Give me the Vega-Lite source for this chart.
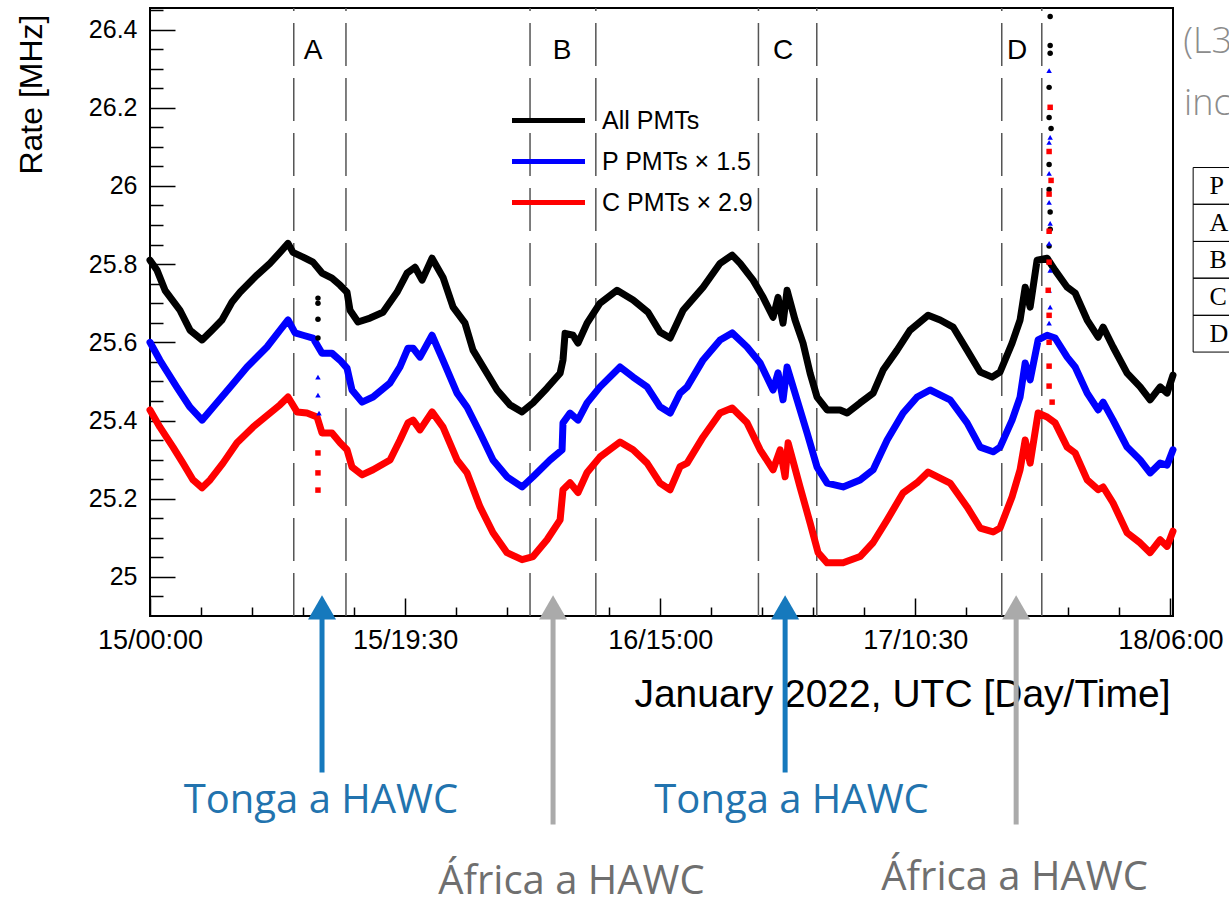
{
  "$schema": "https://vega.github.io/schema/vega-lite/v6.json",
  "width": 1023,
  "height": 608,
  "autosize": {"type": "none"},
  "padding": {"left": 150, "top": 8, "right": 56, "bottom": 283},
  "background": "white",
  "config": {"view": {"stroke": "black", "strokeWidth": 2}, "font": "Liberation Sans"},
  "resolve": {"axis": {"x": "independent", "y": "independent"}},
  "datasets": {
    "lines": [{"t": 10.99}, {"t": 14.98}, {"t": 29.05}, {"t": 34.08}, {"t": 46.51}, {"t": 50.97}, {"t": 65.11}, {"t": 68.17}],
    "periods": [{"period": "A", "t": 12.46, "v": 26.346}, {"period": "B", "t": 31.5, "v": 26.346}, {"period": "C", "t": 48.39, "v": 26.346}, {"period": "D", "t": 66.28, "v": 26.346}],
    "series": [
      {"series": "All PMTs", "t": 0, "rate": 25.81}, {"series": "All PMTs", "t": 0.54, "rate": 25.784}, {"series": "All PMTs", "t": 1.15, "rate": 25.733}, {"series": "All PMTs", "t": 2.29, "rate": 25.682}, {"series": "All PMTs", "t": 3.06, "rate": 25.631}, {"series": "All PMTs", "t": 3.98, "rate": 25.606}, {"series": "All PMTs", "t": 4.74, "rate": 25.631}, {"series": "All PMTs", "t": 5.5, "rate": 25.657}, {"series": "All PMTs", "t": 6.27, "rate": 25.703}, {"series": "All PMTs", "t": 6.88, "rate": 25.728}, {"series": "All PMTs", "t": 8.18, "rate": 25.772}, {"series": "All PMTs", "t": 9.17, "rate": 25.802}, {"series": "All PMTs", "t": 9.94, "rate": 25.83}, {"series": "All PMTs", "t": 10.55, "rate": 25.853}, {"series": "All PMTs", "t": 10.93, "rate": 25.83}, {"series": "All PMTs", "t": 11.7, "rate": 25.818}, {"series": "All PMTs", "t": 12.46, "rate": 25.805}, {"series": "All PMTs", "t": 13.15, "rate": 25.777}, {"series": "All PMTs", "t": 13.91, "rate": 25.764}, {"series": "All PMTs", "t": 14.53, "rate": 25.746}, {"series": "All PMTs", "t": 15.06, "rate": 25.728}, {"series": "All PMTs", "t": 15.29, "rate": 25.682}, {"series": "All PMTs", "t": 15.9, "rate": 25.652}, {"series": "All PMTs", "t": 16.82, "rate": 25.662}, {"series": "All PMTs", "t": 17.81, "rate": 25.677}, {"series": "All PMTs", "t": 18.88, "rate": 25.728}, {"series": "All PMTs", "t": 19.65, "rate": 25.777}, {"series": "All PMTs", "t": 20.26, "rate": 25.792}, {"series": "All PMTs", "t": 20.8, "rate": 25.759}, {"series": "All PMTs", "t": 21.56, "rate": 25.815}, {"series": "All PMTs", "t": 22.4, "rate": 25.766}, {"series": "All PMTs", "t": 23.17, "rate": 25.69}, {"series": "All PMTs", "t": 24.08, "rate": 25.649}, {"series": "All PMTs", "t": 24.69, "rate": 25.58}, {"series": "All PMTs", "t": 25.76, "rate": 25.521}, {"series": "All PMTs", "t": 26.53, "rate": 25.478}, {"series": "All PMTs", "t": 27.52, "rate": 25.44}, {"series": "All PMTs", "t": 28.44, "rate": 25.422}, {"series": "All PMTs", "t": 29.28, "rate": 25.445}, {"series": "All PMTs", "t": 30.35, "rate": 25.483}, {"series": "All PMTs", "t": 31.35, "rate": 25.521}, {"series": "All PMTs", "t": 31.57, "rate": 25.555}, {"series": "All PMTs", "t": 31.73, "rate": 25.623}, {"series": "All PMTs", "t": 32.34, "rate": 25.618}, {"series": "All PMTs", "t": 32.72, "rate": 25.598}, {"series": "All PMTs", "t": 33.41, "rate": 25.649}, {"series": "All PMTs", "t": 34.4, "rate": 25.7}, {"series": "All PMTs", "t": 35.7, "rate": 25.733}, {"series": "All PMTs", "t": 36.93, "rate": 25.708}, {"series": "All PMTs", "t": 38.07, "rate": 25.677}, {"series": "All PMTs", "t": 38.99, "rate": 25.626}, {"series": "All PMTs", "t": 39.76, "rate": 25.611}, {"series": "All PMTs", "t": 40.75, "rate": 25.682}, {"series": "All PMTs", "t": 42.28, "rate": 25.741}, {"series": "All PMTs", "t": 43.58, "rate": 25.802}, {"series": "All PMTs", "t": 44.5, "rate": 25.823}, {"series": "All PMTs", "t": 45.11, "rate": 25.802}, {"series": "All PMTs", "t": 46.1, "rate": 25.759}, {"series": "All PMTs", "t": 46.87, "rate": 25.715}, {"series": "All PMTs", "t": 47.63, "rate": 25.664}, {"series": "All PMTs", "t": 48.01, "rate": 25.715}, {"series": "All PMTs", "t": 48.39, "rate": 25.649}, {"series": "All PMTs", "t": 48.7, "rate": 25.733}, {"series": "All PMTs", "t": 49.31, "rate": 25.657}, {"series": "All PMTs", "t": 49.92, "rate": 25.598}, {"series": "All PMTs", "t": 50.46, "rate": 25.521}, {"series": "All PMTs", "t": 50.99, "rate": 25.46}, {"series": "All PMTs", "t": 51.76, "rate": 25.427}, {"series": "All PMTs", "t": 52.75, "rate": 25.427}, {"series": "All PMTs", "t": 53.29, "rate": 25.419}, {"series": "All PMTs", "t": 54.28, "rate": 25.445}, {"series": "All PMTs", "t": 55.28, "rate": 25.47}, {"series": "All PMTs", "t": 56.04, "rate": 25.529}, {"series": "All PMTs", "t": 57.11, "rate": 25.58}, {"series": "All PMTs", "t": 58.1, "rate": 25.631}, {"series": "All PMTs", "t": 59.48, "rate": 25.669}, {"series": "All PMTs", "t": 60.4, "rate": 25.657}, {"series": "All PMTs", "t": 61.39, "rate": 25.639}, {"series": "All PMTs", "t": 62.46, "rate": 25.58}, {"series": "All PMTs", "t": 63.46, "rate": 25.524}, {"series": "All PMTs", "t": 64.37, "rate": 25.511}, {"series": "All PMTs", "t": 64.98, "rate": 25.524}, {"series": "All PMTs", "t": 65.9, "rate": 25.598}, {"series": "All PMTs", "t": 66.51, "rate": 25.657}, {"series": "All PMTs", "t": 66.9, "rate": 25.741}, {"series": "All PMTs", "t": 67.28, "rate": 25.69}, {"series": "All PMTs", "t": 67.81, "rate": 25.81}, {"series": "All PMTs", "t": 68.58, "rate": 25.815}, {"series": "All PMTs", "t": 69.19, "rate": 25.784}, {"series": "All PMTs", "t": 70.11, "rate": 25.741}, {"series": "All PMTs", "t": 70.72, "rate": 25.726}, {"series": "All PMTs", "t": 71.64, "rate": 25.657}, {"series": "All PMTs", "t": 72.48, "rate": 25.613}, {"series": "All PMTs", "t": 72.86, "rate": 25.639}, {"series": "All PMTs", "t": 73.62, "rate": 25.588}, {"series": "All PMTs", "t": 74.69, "rate": 25.521}, {"series": "All PMTs", "t": 75.69, "rate": 25.486}, {"series": "All PMTs", "t": 76.45, "rate": 25.453}, {"series": "All PMTs", "t": 77.22, "rate": 25.486}, {"series": "All PMTs", "t": 77.75, "rate": 25.47}, {"series": "All PMTs", "t": 78.2, "rate": 25.516},
      {"series": "P PMTs × 1.5", "t": 0, "rate": 25.6}, {"series": "P PMTs × 1.5", "t": 0.76, "rate": 25.554}, {"series": "P PMTs × 1.5", "t": 2.06, "rate": 25.485}, {"series": "P PMTs × 1.5", "t": 3.06, "rate": 25.434}, {"series": "P PMTs × 1.5", "t": 3.98, "rate": 25.401}, {"series": "P PMTs × 1.5", "t": 4.82, "rate": 25.434}, {"series": "P PMTs × 1.5", "t": 6.12, "rate": 25.485}, {"series": "P PMTs × 1.5", "t": 7.42, "rate": 25.537}, {"series": "P PMTs × 1.5", "t": 8.94, "rate": 25.588}, {"series": "P PMTs × 1.5", "t": 9.94, "rate": 25.631}, {"series": "P PMTs × 1.5", "t": 10.55, "rate": 25.657}, {"series": "P PMTs × 1.5", "t": 11.09, "rate": 25.624}, {"series": "P PMTs × 1.5", "t": 11.7, "rate": 25.618}, {"series": "P PMTs × 1.5", "t": 12.46, "rate": 25.611}, {"series": "P PMTs × 1.5", "t": 13.15, "rate": 25.572}, {"series": "P PMTs × 1.5", "t": 13.91, "rate": 25.572}, {"series": "P PMTs × 1.5", "t": 14.53, "rate": 25.554}, {"series": "P PMTs × 1.5", "t": 15.06, "rate": 25.534}, {"series": "P PMTs × 1.5", "t": 15.44, "rate": 25.478}, {"series": "P PMTs × 1.5", "t": 16.21, "rate": 25.447}, {"series": "P PMTs × 1.5", "t": 17.05, "rate": 25.46}, {"series": "P PMTs × 1.5", "t": 18.35, "rate": 25.496}, {"series": "P PMTs × 1.5", "t": 19.11, "rate": 25.537}, {"series": "P PMTs × 1.5", "t": 19.72, "rate": 25.585}, {"series": "P PMTs × 1.5", "t": 20.11, "rate": 25.585}, {"series": "P PMTs × 1.5", "t": 20.64, "rate": 25.562}, {"series": "P PMTs × 1.5", "t": 21.56, "rate": 25.618}, {"series": "P PMTs × 1.5", "t": 22.4, "rate": 25.554}, {"series": "P PMTs × 1.5", "t": 23.47, "rate": 25.47}, {"series": "P PMTs × 1.5", "t": 24.24, "rate": 25.434}, {"series": "P PMTs × 1.5", "t": 25.23, "rate": 25.368}, {"series": "P PMTs × 1.5", "t": 26.22, "rate": 25.299}, {"series": "P PMTs × 1.5", "t": 27.29, "rate": 25.256}, {"series": "P PMTs × 1.5", "t": 28.44, "rate": 25.23}, {"series": "P PMTs × 1.5", "t": 29.28, "rate": 25.256}, {"series": "P PMTs × 1.5", "t": 30.58, "rate": 25.299}, {"series": "P PMTs × 1.5", "t": 31.5, "rate": 25.325}, {"series": "P PMTs × 1.5", "t": 31.57, "rate": 25.394}, {"series": "P PMTs × 1.5", "t": 32.11, "rate": 25.419}, {"series": "P PMTs × 1.5", "t": 32.72, "rate": 25.401}, {"series": "P PMTs × 1.5", "t": 33.41, "rate": 25.445}, {"series": "P PMTs × 1.5", "t": 34.4, "rate": 25.486}, {"series": "P PMTs × 1.5", "t": 35.93, "rate": 25.537}, {"series": "P PMTs × 1.5", "t": 36.93, "rate": 25.511}, {"series": "P PMTs × 1.5", "t": 38.0, "rate": 25.486}, {"series": "P PMTs × 1.5", "t": 38.99, "rate": 25.435}, {"series": "P PMTs × 1.5", "t": 39.76, "rate": 25.419}, {"series": "P PMTs × 1.5", "t": 40.52, "rate": 25.47}, {"series": "P PMTs × 1.5", "t": 41.06, "rate": 25.486}, {"series": "P PMTs × 1.5", "t": 42.28, "rate": 25.555}, {"series": "P PMTs × 1.5", "t": 43.58, "rate": 25.606}, {"series": "P PMTs × 1.5", "t": 44.5, "rate": 25.624}, {"series": "P PMTs × 1.5", "t": 45.64, "rate": 25.588}, {"series": "P PMTs × 1.5", "t": 46.64, "rate": 25.547}, {"series": "P PMTs × 1.5", "t": 47.63, "rate": 25.478}, {"series": "P PMTs × 1.5", "t": 48.01, "rate": 25.522}, {"series": "P PMTs × 1.5", "t": 48.39, "rate": 25.453}, {"series": "P PMTs × 1.5", "t": 48.7, "rate": 25.537}, {"series": "P PMTs × 1.5", "t": 49.46, "rate": 25.453}, {"series": "P PMTs × 1.5", "t": 50.23, "rate": 25.368}, {"series": "P PMTs × 1.5", "t": 50.99, "rate": 25.281}, {"series": "P PMTs × 1.5", "t": 51.76, "rate": 25.24}, {"series": "P PMTs × 1.5", "t": 52.98, "rate": 25.23}, {"series": "P PMTs × 1.5", "t": 54.28, "rate": 25.248}, {"series": "P PMTs × 1.5", "t": 55.28, "rate": 25.274}, {"series": "P PMTs × 1.5", "t": 56.35, "rate": 25.35}, {"series": "P PMTs × 1.5", "t": 57.57, "rate": 25.419}, {"series": "P PMTs × 1.5", "t": 58.64, "rate": 25.46}, {"series": "P PMTs × 1.5", "t": 59.63, "rate": 25.478}, {"series": "P PMTs × 1.5", "t": 61.16, "rate": 25.453}, {"series": "P PMTs × 1.5", "t": 62.46, "rate": 25.394}, {"series": "P PMTs × 1.5", "t": 63.46, "rate": 25.332}, {"series": "P PMTs × 1.5", "t": 64.45, "rate": 25.32}, {"series": "P PMTs × 1.5", "t": 64.98, "rate": 25.332}, {"series": "P PMTs × 1.5", "t": 65.9, "rate": 25.401}, {"series": "P PMTs × 1.5", "t": 66.51, "rate": 25.46}, {"series": "P PMTs × 1.5", "t": 66.9, "rate": 25.547}, {"series": "P PMTs × 1.5", "t": 67.28, "rate": 25.504}, {"series": "P PMTs × 1.5", "t": 67.89, "rate": 25.606}, {"series": "P PMTs × 1.5", "t": 68.58, "rate": 25.618}, {"series": "P PMTs × 1.5", "t": 69.19, "rate": 25.611}, {"series": "P PMTs × 1.5", "t": 70.11, "rate": 25.562}, {"series": "P PMTs × 1.5", "t": 70.72, "rate": 25.537}, {"series": "P PMTs × 1.5", "t": 71.64, "rate": 25.47}, {"series": "P PMTs × 1.5", "t": 72.48, "rate": 25.427}, {"series": "P PMTs × 1.5", "t": 72.86, "rate": 25.447}, {"series": "P PMTs × 1.5", "t": 73.62, "rate": 25.401}, {"series": "P PMTs × 1.5", "t": 74.69, "rate": 25.332}, {"series": "P PMTs × 1.5", "t": 75.69, "rate": 25.299}, {"series": "P PMTs × 1.5", "t": 76.45, "rate": 25.266}, {"series": "P PMTs × 1.5", "t": 77.22, "rate": 25.291}, {"series": "P PMTs × 1.5", "t": 77.75, "rate": 25.286}, {"series": "P PMTs × 1.5", "t": 78.2, "rate": 25.325},
      {"series": "C PMTs × 2.9", "t": 0, "rate": 25.427}, {"series": "C PMTs × 2.9", "t": 0.76, "rate": 25.383}, {"series": "C PMTs × 2.9", "t": 1.76, "rate": 25.332}, {"series": "C PMTs × 2.9", "t": 2.52, "rate": 25.291}, {"series": "C PMTs × 2.9", "t": 3.29, "rate": 25.248}, {"series": "C PMTs × 2.9", "t": 3.98, "rate": 25.228}, {"series": "C PMTs × 2.9", "t": 4.59, "rate": 25.248}, {"series": "C PMTs × 2.9", "t": 5.58, "rate": 25.291}, {"series": "C PMTs × 2.9", "t": 6.65, "rate": 25.343}, {"series": "C PMTs × 2.9", "t": 7.87, "rate": 25.383}, {"series": "C PMTs × 2.9", "t": 9.17, "rate": 25.419}, {"series": "C PMTs × 2.9", "t": 9.94, "rate": 25.44}, {"series": "C PMTs × 2.9", "t": 10.55, "rate": 25.46}, {"series": "C PMTs × 2.9", "t": 11.24, "rate": 25.422}, {"series": "C PMTs × 2.9", "t": 12.0, "rate": 25.419}, {"series": "C PMTs × 2.9", "t": 12.77, "rate": 25.409}, {"series": "C PMTs × 2.9", "t": 13.15, "rate": 25.368}, {"series": "C PMTs × 2.9", "t": 13.91, "rate": 25.368}, {"series": "C PMTs × 2.9", "t": 14.53, "rate": 25.343}, {"series": "C PMTs × 2.9", "t": 15.06, "rate": 25.325}, {"series": "C PMTs × 2.9", "t": 15.44, "rate": 25.281}, {"series": "C PMTs × 2.9", "t": 16.21, "rate": 25.261}, {"series": "C PMTs × 2.9", "t": 17.05, "rate": 25.274}, {"series": "C PMTs × 2.9", "t": 18.35, "rate": 25.299}, {"series": "C PMTs × 2.9", "t": 19.11, "rate": 25.35}, {"series": "C PMTs × 2.9", "t": 19.72, "rate": 25.394}, {"series": "C PMTs × 2.9", "t": 20.11, "rate": 25.401}, {"series": "C PMTs × 2.9", "t": 20.64, "rate": 25.376}, {"series": "C PMTs × 2.9", "t": 21.56, "rate": 25.422}, {"series": "C PMTs × 2.9", "t": 22.4, "rate": 25.383}, {"series": "C PMTs × 2.9", "t": 23.47, "rate": 25.299}, {"series": "C PMTs × 2.9", "t": 24.24, "rate": 25.266}, {"series": "C PMTs × 2.9", "t": 25.23, "rate": 25.179}, {"series": "C PMTs × 2.9", "t": 26.22, "rate": 25.113}, {"series": "C PMTs × 2.9", "t": 27.29, "rate": 25.062}, {"series": "C PMTs × 2.9", "t": 28.44, "rate": 25.044}, {"series": "C PMTs × 2.9", "t": 29.28, "rate": 25.052}, {"series": "C PMTs × 2.9", "t": 30.35, "rate": 25.095}, {"series": "C PMTs × 2.9", "t": 31.35, "rate": 25.146}, {"series": "C PMTs × 2.9", "t": 31.57, "rate": 25.223}, {"series": "C PMTs × 2.9", "t": 32.11, "rate": 25.241}, {"series": "C PMTs × 2.9", "t": 32.72, "rate": 25.216}, {"series": "C PMTs × 2.9", "t": 33.41, "rate": 25.267}, {"series": "C PMTs × 2.9", "t": 34.4, "rate": 25.307}, {"series": "C PMTs × 2.9", "t": 35.93, "rate": 25.345}, {"series": "C PMTs × 2.9", "t": 36.93, "rate": 25.325}, {"series": "C PMTs × 2.9", "t": 38.0, "rate": 25.291}, {"series": "C PMTs × 2.9", "t": 38.99, "rate": 25.24}, {"series": "C PMTs × 2.9", "t": 39.76, "rate": 25.223}, {"series": "C PMTs × 2.9", "t": 40.52, "rate": 25.282}, {"series": "C PMTs × 2.9", "t": 41.06, "rate": 25.291}, {"series": "C PMTs × 2.9", "t": 42.28, "rate": 25.358}, {"series": "C PMTs × 2.9", "t": 43.58, "rate": 25.419}, {"series": "C PMTs × 2.9", "t": 44.5, "rate": 25.432}, {"series": "C PMTs × 2.9", "t": 45.64, "rate": 25.394}, {"series": "C PMTs × 2.9", "t": 46.64, "rate": 25.325}, {"series": "C PMTs × 2.9", "t": 47.63, "rate": 25.274}, {"series": "C PMTs × 2.9", "t": 48.17, "rate": 25.325}, {"series": "C PMTs × 2.9", "t": 48.55, "rate": 25.256}, {"series": "C PMTs × 2.9", "t": 48.78, "rate": 25.343}, {"series": "C PMTs × 2.9", "t": 49.69, "rate": 25.23}, {"series": "C PMTs × 2.9", "t": 50.46, "rate": 25.138}, {"series": "C PMTs × 2.9", "t": 51.07, "rate": 25.062}, {"series": "C PMTs × 2.9", "t": 51.76, "rate": 25.036}, {"series": "C PMTs × 2.9", "t": 52.98, "rate": 25.036}, {"series": "C PMTs × 2.9", "t": 54.28, "rate": 25.052}, {"series": "C PMTs × 2.9", "t": 55.28, "rate": 25.088}, {"series": "C PMTs × 2.9", "t": 56.35, "rate": 25.146}, {"series": "C PMTs × 2.9", "t": 57.57, "rate": 25.215}, {"series": "C PMTs × 2.9", "t": 58.64, "rate": 25.241}, {"series": "C PMTs × 2.9", "t": 59.48, "rate": 25.268}, {"series": "C PMTs × 2.9", "t": 61.16, "rate": 25.24}, {"series": "C PMTs × 2.9", "t": 62.46, "rate": 25.179}, {"series": "C PMTs × 2.9", "t": 63.46, "rate": 25.125}, {"series": "C PMTs × 2.9", "t": 64.45, "rate": 25.115}, {"series": "C PMTs × 2.9", "t": 64.98, "rate": 25.125}, {"series": "C PMTs × 2.9", "t": 65.9, "rate": 25.205}, {"series": "C PMTs × 2.9", "t": 66.51, "rate": 25.274}, {"series": "C PMTs × 2.9", "t": 66.9, "rate": 25.35}, {"series": "C PMTs × 2.9", "t": 67.28, "rate": 25.291}, {"series": "C PMTs × 2.9", "t": 67.89, "rate": 25.419}, {"series": "C PMTs × 2.9", "t": 68.58, "rate": 25.409}, {"series": "C PMTs × 2.9", "t": 69.19, "rate": 25.394}, {"series": "C PMTs × 2.9", "t": 70.11, "rate": 25.332}, {"series": "C PMTs × 2.9", "t": 70.72, "rate": 25.317}, {"series": "C PMTs × 2.9", "t": 71.64, "rate": 25.248}, {"series": "C PMTs × 2.9", "t": 72.48, "rate": 25.223}, {"series": "C PMTs × 2.9", "t": 72.86, "rate": 25.23}, {"series": "C PMTs × 2.9", "t": 73.62, "rate": 25.189}, {"series": "C PMTs × 2.9", "t": 74.69, "rate": 25.113}, {"series": "C PMTs × 2.9", "t": 75.69, "rate": 25.087}, {"series": "C PMTs × 2.9", "t": 76.45, "rate": 25.062}, {"series": "C PMTs × 2.9", "t": 77.22, "rate": 25.095}, {"series": "C PMTs × 2.9", "t": 77.75, "rate": 25.078}, {"series": "C PMTs × 2.9", "t": 78.2, "rate": 25.117}
    ],
    "spikes": [
      {"series": "All PMTs", "t": 12.84, "rate": 25.713}, {"series": "All PMTs", "t": 12.84, "rate": 25.7}, {"series": "All PMTs", "t": 12.84, "rate": 25.659}, {"series": "All PMTs", "t": 12.84, "rate": 25.611},
      {"series": "P PMTs × 1.5", "t": 12.84, "rate": 25.511}, {"series": "P PMTs × 1.5", "t": 12.84, "rate": 25.465}, {"series": "P PMTs × 1.5", "t": 12.92, "rate": 25.419},
      {"series": "C PMTs × 2.9", "t": 12.84, "rate": 25.317}, {"series": "C PMTs × 2.9", "t": 12.84, "rate": 25.266}, {"series": "C PMTs × 2.9", "t": 12.84, "rate": 25.222},
      {"series": "All PMTs", "t": 68.81, "rate": 26.433}, {"series": "All PMTs", "t": 68.81, "rate": 26.359}, {"series": "All PMTs", "t": 68.81, "rate": 26.339}, {"series": "All PMTs", "t": 68.73, "rate": 26.252}, {"series": "All PMTs", "t": 68.73, "rate": 26.175}, {"series": "All PMTs", "t": 68.88, "rate": 26.147}, {"series": "All PMTs", "t": 68.73, "rate": 26.055}, {"series": "All PMTs", "t": 68.73, "rate": 25.991}, {"series": "All PMTs", "t": 68.81, "rate": 25.933}, {"series": "All PMTs", "t": 68.81, "rate": 25.889}, {"series": "All PMTs", "t": 68.73, "rate": 25.846},
      {"series": "P PMTs × 1.5", "t": 68.73, "rate": 26.295}, {"series": "P PMTs × 1.5", "t": 68.81, "rate": 26.201}, {"series": "P PMTs × 1.5", "t": 68.81, "rate": 26.124}, {"series": "P PMTs × 1.5", "t": 68.73, "rate": 26.111}, {"series": "P PMTs × 1.5", "t": 68.73, "rate": 26.032}, {"series": "P PMTs × 1.5", "t": 68.73, "rate": 25.958}, {"series": "P PMTs × 1.5", "t": 68.81, "rate": 25.904}, {"series": "P PMTs × 1.5", "t": 68.73, "rate": 25.853}, {"series": "P PMTs × 1.5", "t": 68.81, "rate": 25.784}, {"series": "P PMTs × 1.5", "t": 68.73, "rate": 25.733}, {"series": "P PMTs × 1.5", "t": 68.81, "rate": 25.69}, {"series": "P PMTs × 1.5", "t": 68.73, "rate": 25.649},
      {"series": "C PMTs × 2.9", "t": 68.81, "rate": 26.201}, {"series": "C PMTs × 2.9", "t": 68.73, "rate": 26.088}, {"series": "C PMTs × 2.9", "t": 68.88, "rate": 26.014}, {"series": "C PMTs × 2.9", "t": 68.73, "rate": 25.979}, {"series": "C PMTs × 2.9", "t": 68.73, "rate": 25.884}, {"series": "C PMTs × 2.9", "t": 68.73, "rate": 25.805}, {"series": "C PMTs × 2.9", "t": 68.66, "rate": 25.733}, {"series": "C PMTs × 2.9", "t": 68.73, "rate": 25.669}, {"series": "C PMTs × 2.9", "t": 68.73, "rate": 25.6}, {"series": "C PMTs × 2.9", "t": 68.73, "rate": 25.539}, {"series": "C PMTs × 2.9", "t": 68.73, "rate": 25.488}, {"series": "C PMTs × 2.9", "t": 68.96, "rate": 25.447}
    ],
    "arrows": [
      {"origin": "Tonga", "t": 13.15, "tip": 24.922, "tail": 24.5},
      {"origin": "África", "t": 30.81, "tip": 24.922, "tail": 24.367},
      {"origin": "Tonga", "t": 48.55, "tip": 24.922, "tail": 24.5},
      {"origin": "África", "t": 66.21, "tip": 24.922, "tail": 24.367}
    ],
    "notes": [
      {"origin": "Tonga", "text": "Tonga a HAWC", "t": 13.07, "v": 24.395},
      {"origin": "África", "text": "África a HAWC", "t": 32.22, "v": 24.188},
      {"origin": "Tonga", "text": "Tonga a HAWC", "t": 49.04, "v": 24.395},
      {"origin": "África", "text": "África a HAWC", "t": 66.09, "v": 24.2}
    ],
    "side": [
      {"text": "(L3", "t": 78.98, "v": 26.367},
      {"text": "inc", "t": 79.05, "v": 26.21}
    ],
    "table": [
      {"row": "P", "top": 26.047, "bot": 25.953, "mid": 26.0},
      {"row": "A", "top": 25.953, "bot": 25.858, "mid": 25.906},
      {"row": "B", "top": 25.858, "bot": 25.764, "mid": 25.811},
      {"row": "C", "top": 25.764, "bot": 25.669, "mid": 25.717},
      {"row": "D", "top": 25.669, "bot": 25.575, "mid": 25.622}
    ]
  },
  "layer": [
    {
      "data": {"name": "lines"},
      "mark": {"type": "rule", "color": "#555555", "strokeWidth": 1.5, "strokeDash": [43, 12]},
      "encoding": {
        "x": {"field": "t", "type": "quantitative", "scale": {"domain": [0, 78.2], "nice": false, "zero": false},
          "axis": {"orient": "bottom", "values": [3.9, 7.8, 11.7, 15.6, 23.4, 27.3, 31.2, 35.1, 42.9, 46.8, 50.7, 54.6, 62.4, 66.3, 70.2, 74.1], "labels": false, "domain": false, "grid": false, "ticks": true, "tickSize": -9, "tickColor": "black", "tickWidth": 1.5, "title": null}},
        "y": {"datum": 24.9, "type": "quantitative", "scale": {"domain": [24.9, 26.455], "nice": false, "zero": false},
          "axis": {"orient": "left", "values": [24.95, 25.05, 25.1, 25.15, 25.25, 25.3, 25.35, 25.45, 25.5, 25.55, 25.65, 25.7, 25.75, 25.85, 25.9, 25.95, 26.05, 26.1, 26.15, 26.25, 26.3, 26.35, 26.45], "labels": false, "domain": false, "grid": false, "ticks": true, "tickSize": -13, "tickColor": "black", "tickWidth": 1.5, "title": null}},
        "y2": {"datum": 26.455}
      }
    },
    {
      "data": {"name": "series"},
      "mark": {"type": "line", "strokeWidth": 7, "strokeJoin": "round", "strokeCap": "round"},
      "encoding": {
        "x": {"field": "t", "type": "quantitative", "scale": {"domain": [0, 78.2], "nice": false, "zero": false},
          "axis": {"orient": "bottom", "values": [0, 19.5, 39, 58.5, 78], "labelExpr": "datum.value == 0 ? '15/00:00' : datum.value == 19.5 ? '15/19:30' : datum.value == 39 ? '16/15:00' : datum.value == 58.5 ? '17/10:30' : '18/06:00'", "labelFlush": false, "labelOverlap": false, "labelBound": false, "labelFontSize": 27, "labelColor": "black", "labelPadding": 29, "domain": false, "grid": false, "ticks": true, "tickSize": -18, "tickColor": "black", "tickWidth": 1.5,
            "title": "January 2022, UTC [Day/Time]", "titleFontSize": 39, "titleFontWeight": "normal", "titleColor": "black", "titleX": 1020, "titleY": 78, "titleAlign": "right", "titleBaseline": "middle"}},
        "y": {"field": "rate", "type": "quantitative", "scale": {"domain": [24.9, 26.455], "nice": false, "zero": false},
          "axis": {"orient": "left", "values": [25, 25.2, 25.4, 25.6, 25.8, 26, 26.2, 26.4], "format": ".1~f", "labelFontSize": 25, "labelColor": "black", "labelPadding": 38, "labelOverlap": false, "labelBound": false, "domain": false, "grid": false, "ticks": true, "tickSize": -25, "tickColor": "black", "tickWidth": 1.5,
            "title": "Rate [MHz]", "titleFontSize": 32, "titleFontWeight": "normal", "titleColor": "black", "titleAngle": -90, "titleX": -119, "titleY": 6, "titleAlign": "right", "titleBaseline": "middle"}},
        "color": {"field": "series", "type": "nominal", "sort": null,
          "scale": {"domain": ["All PMTs", "P PMTs × 1.5", "C PMTs × 2.9"], "range": ["#000000", "#0000ff", "#ff0000"]},
          "legend": {"title": null, "orient": "none", "legendX": 386, "legendY": 100, "padding": 0, "symbolType": "M-7.3,0H7.3", "symbolSize": 100, "symbolStrokeWidth": 5, "labelFontSize": 25, "labelColor": "black", "labelOffset": 41, "rowPadding": 15}}
      }
    },
    {
      "data": {"name": "spikes"},
      "mark": {"type": "point", "filled": true, "size": 30, "opacity": 1},
      "encoding": {
        "x": {"field": "t", "type": "quantitative", "scale": {"domain": [0, 78.2], "nice": false, "zero": false}, "axis": null},
        "y": {"field": "rate", "type": "quantitative", "scale": {"domain": [24.9, 26.455], "nice": false, "zero": false}, "axis": null},
        "fill": {"condition": [{"test": "datum.series === 'All PMTs'", "value": "#000000"}, {"test": "datum.series === 'P PMTs × 1.5'", "value": "#0000ff"}], "value": "#ff0000"},
        "shape": {"condition": [{"test": "datum.series === 'All PMTs'", "value": "circle"}, {"test": "datum.series === 'P PMTs × 1.5'", "value": "triangle-up"}], "value": "square"}
      }
    },
    {
      "data": {"name": "periods"},
      "mark": {"type": "text", "fontSize": 28, "font": "Liberation Sans", "color": "black", "align": "center", "baseline": "middle"},
      "encoding": {
        "x": {"field": "t", "type": "quantitative", "scale": {"domain": [0, 78.2], "nice": false, "zero": false}, "axis": null},
        "y": {"field": "v", "type": "quantitative", "scale": {"domain": [24.9, 26.455], "nice": false, "zero": false}, "axis": null},
        "text": {"field": "period"}
      }
    },
    {
      "data": {"name": "arrows"},
      "mark": {"type": "rule", "strokeWidth": 5},
      "encoding": {
        "x": {"field": "t", "type": "quantitative", "scale": {"domain": [0, 78.2], "nice": false, "zero": false}, "axis": null},
        "y": {"field": "tip", "type": "quantitative", "scale": {"domain": [24.9, 26.455], "nice": false, "zero": false}, "axis": null},
        "y2": {"field": "tail"},
        "color": {"condition": {"test": "datum.origin === 'Tonga'", "value": "#1679bd"}, "value": "#aaaaaa"}
      }
    },
    {
      "data": {"name": "arrows"},
      "mark": {"type": "point", "shape": "triangle-up", "size": 784, "filled": true, "opacity": 1},
      "encoding": {
        "x": {"field": "t", "type": "quantitative", "scale": {"domain": [0, 78.2], "nice": false, "zero": false}, "axis": null},
        "y": {"field": "tip", "type": "quantitative", "scale": {"domain": [24.9, 26.455], "nice": false, "zero": false}, "axis": null},
        "color": {"condition": {"test": "datum.origin === 'Tonga'", "value": "#1679bd"}, "value": "#aaaaaa"}
      }
    },
    {
      "data": {"name": "notes"},
      "mark": {"type": "text", "fontSize": 40, "font": "Open Sans", "align": "center", "baseline": "alphabetic"},
      "encoding": {
        "x": {"field": "t", "type": "quantitative", "scale": {"domain": [0, 78.2], "nice": false, "zero": false}, "axis": null},
        "y": {"field": "v", "type": "quantitative", "scale": {"domain": [24.9, 26.455], "nice": false, "zero": false}, "axis": null},
        "text": {"field": "text"},
        "color": {"condition": {"test": "datum.origin === 'Tonga'", "value": "#2273ae"}, "value": "#6f6f6f"}
      }
    },
    {
      "data": {"name": "side"},
      "mark": {"type": "text", "fontSize": 36, "font": "Open Sans", "fontWeight": 300, "align": "left", "baseline": "middle", "color": "#8c8c8c"},
      "encoding": {
        "x": {"field": "t", "type": "quantitative", "scale": {"domain": [0, 78.2], "nice": false, "zero": false}, "axis": null},
        "y": {"field": "v", "type": "quantitative", "scale": {"domain": [24.9, 26.455], "nice": false, "zero": false}, "axis": null},
        "text": {"field": "text"}
      }
    },
    {
      "data": {"name": "table"},
      "mark": {"type": "rect", "filled": false, "color": "black", "strokeWidth": 1},
      "encoding": {
        "x": {"datum": 79.74, "type": "quantitative", "scale": {"domain": [0, 78.2], "nice": false, "zero": false}, "axis": null},
        "x2": {"datum": 86},
        "y": {"field": "top", "type": "quantitative", "scale": {"domain": [24.9, 26.455], "nice": false, "zero": false}, "axis": null},
        "y2": {"field": "bot"}
      }
    },
    {
      "data": {"name": "table"},
      "mark": {"type": "text", "fontSize": 26, "font": "Liberation Serif", "align": "left", "baseline": "middle", "color": "black"},
      "encoding": {
        "x": {"datum": 80.99, "type": "quantitative", "scale": {"domain": [0, 78.2], "nice": false, "zero": false}, "axis": null},
        "y": {"field": "mid", "type": "quantitative", "scale": {"domain": [24.9, 26.455], "nice": false, "zero": false}, "axis": null},
        "text": {"field": "row"}
      }
    }
  ]
}
